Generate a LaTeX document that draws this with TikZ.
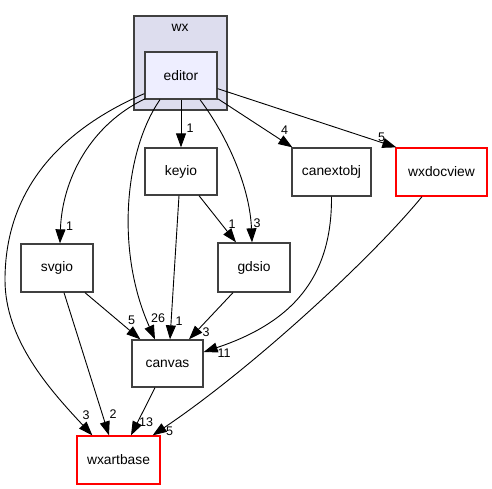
\documentclass[tikz,border=0pt]{standalone}
\usepackage{fontspec}
\setmainfont{Liberation Sans}
\usetikzlibrary{arrows.meta}
\definecolor{boxgray}{HTML}{404040}
\definecolor{clusterfill}{HTML}{DDDDEE}
\definecolor{editorfill}{HTML}{EEEEFF}
\tikzset{
  dirbox/.style={draw=boxgray, line width=1.3pt, rectangle, inner sep=0pt,
    minimum height=47pt, font=\fontsize{13.8}{16}\selectfont},
  redbox/.style={dirbox, draw=red},
  edge/.style={line width=0.9pt, -{Triangle[length=14pt,width=10pt]}},
  elabel/.style={inner sep=0pt, font=\fontsize{12.5}{14}\selectfont},
}
\begin{document}
\begin{tikzpicture}[x=1pt,y=-1pt]
\useasboundingbox (0,0) rectangle (492,489);
% cluster
\node[draw=boxgray, line width=1.3pt, fill=clusterfill, minimum width=93pt, minimum height=94pt, inner sep=0pt] (wx) at (180.5,63) {};
\node[inner sep=0pt, font=\fontsize{13.8}{16}\selectfont] (wxlabel) at (180,28) {wx};
% nodes
\node[dirbox, fill=editorfill, minimum width=72pt] (editor) at (181,75.5) {editor};
\node[dirbox, minimum width=72pt] (keyio) at (181,171.5) {keyio};
\node[dirbox, minimum width=79pt, minimum height=48pt] (canextobj) at (331.5,172) {canextobj};
\node[redbox, minimum width=91pt, minimum height=48pt] (wxdocview) at (441.5,172) {wxdocview};
\node[dirbox, minimum width=72pt, minimum height=48pt] (svgio) at (57,268) {svgio};
\node[dirbox, minimum width=72pt, minimum height=49pt] (gdsio) at (254,267.5) {gdsio};
\node[dirbox, minimum width=71pt] (canvas) at (167.5,363.5) {canvas};
\node[redbox, minimum width=83pt, minimum height=48pt] (wxartbase) at (118.5,460) {wxartbase};
% edges
\draw[edge] (editor) -- (keyio);
\draw[edge] ([xshift=1pt,yshift=1pt]editor.south west) .. controls (90,125) and (62,180) .. ([xshift=3pt]svgio.north);
\draw[edge] ([yshift=6pt]editor.south west) .. controls (60,130) and (5,190) .. (5,280) .. controls (5,340) and (50,390) .. ([xshift=16pt]wxartbase.north west);
\draw[edge] ([xshift=-21pt]editor.south) .. controls (125,150) and (115,250) .. ([xshift=-12.5pt]canvas.north);
\draw[edge] ([xshift=19pt]editor.south) .. controls (230,140) and (250,190) .. ([xshift=-2pt]gdsio.north);
\draw[edge] ([yshift=1pt]editor.south east) -- ([xshift=1pt]canextobj.north west);
\draw[edge] ([yshift=11pt]editor.south east) -- ([xshift=1pt]wxdocview.north west);
\draw[edge] ([xshift=-2pt]keyio.south) -- ([xshift=2.5pt]canvas.north);
\draw[edge] ([xshift=18pt]keyio.south) -- ([xshift=-18pt]gdsio.north);
\draw[edge] ([xshift=28pt]svgio.south) -- ([xshift=9pt]canvas.north west);
\draw[edge] ([xshift=7pt]svgio.south) -- ([xshift=-9.5pt]wxartbase.north);
\draw[edge] ([xshift=-21pt]gdsio.south) -- ([xshift=21.5pt]canvas.north);
\draw[edge] (canextobj.south) .. controls (332,270) and (300,320) .. ([yshift=11.5pt]canvas.east);
\draw[edge] ([xshift=-19.5pt]wxdocview.south) .. controls (370,260) and (250,370) .. ([xshift=-8pt]wxartbase.north east);
\draw[edge] ([xshift=-12.5pt]canvas.south) -- ([xshift=12.5pt]wxartbase.north);
% edge labels
\node[elabel] (l1) at (190,128.5) {1};
\node[elabel] (l2) at (69.5,226.5) {1};
\node[elabel] (l3) at (86,415) {3};
\node[elabel] (l4) at (158,318.5) {26};
\node[elabel] (l5) at (257,223) {3};
\node[elabel] (l6) at (284.5,130) {4};
\node[elabel] (l7) at (381.5,137.5) {5};
\node[elabel] (l8) at (179,321.5) {1};
\node[elabel] (l9) at (232,224) {1};
\node[elabel] (l10) at (131.5,320.5) {5};
\node[elabel] (l11) at (113,414.5) {2};
\node[elabel] (l12) at (206,332) {3};
\node[elabel] (l13) at (224,353.5) {11};
\node[elabel] (l14) at (169.5,431.5) {5};
\node[elabel] (l15) at (146,422.5) {13};
\end{tikzpicture}
\end{document}
